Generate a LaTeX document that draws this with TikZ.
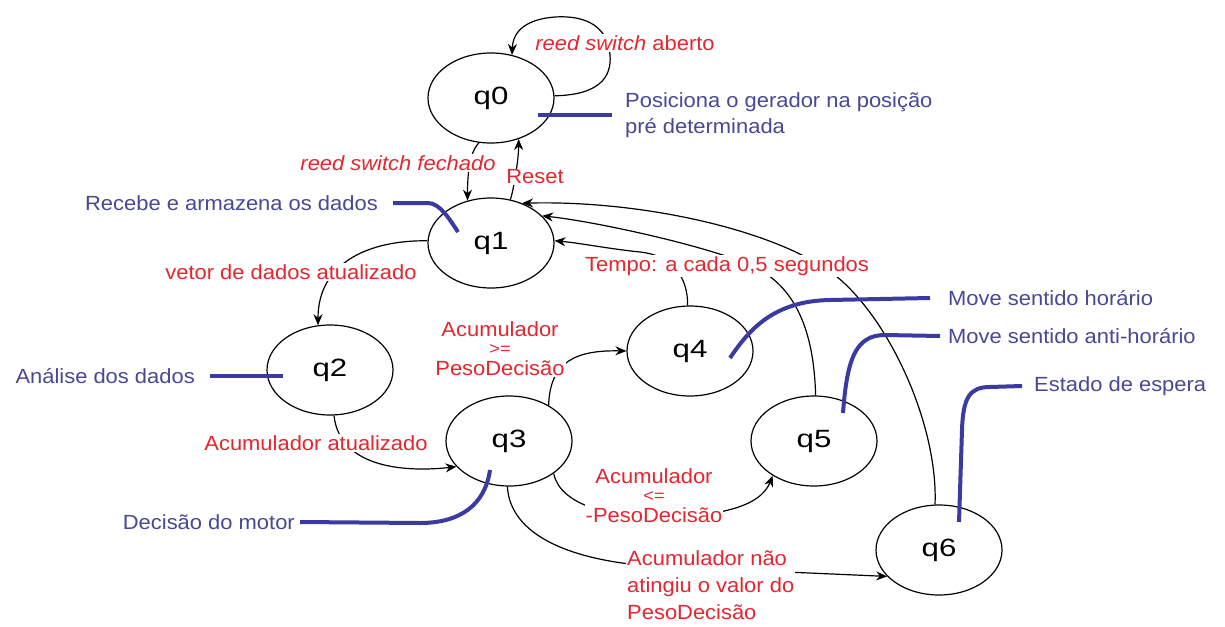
\documentclass[tikz,border=0pt]{standalone}
\usepackage{fontspec}
\setmainfont[FakeStretch=1.07]{Liberation Sans}
\newfontfamily\qfont[FakeStretch=1.25]{Liberation Sans}
\usetikzlibrary{shapes.geometric,arrows.meta}
\definecolor{lblred}{RGB}{228,38,48}
\definecolor{lblblue}{RGB}{72,72,150}
\definecolor{lnblue}{RGB}{58,58,160}
\begin{document}
\begin{tikzpicture}[x=1pt,y=-1pt,
  state/.style={draw, ellipse, line width=1.2pt, minimum width=126pt, minimum height=90pt, inner sep=0pt, font=\qfont\fontsize{25}{28}\selectfont},
  arr/.style={-{Stealth[length=11pt,width=9pt]}, line width=1.2pt},
  lbl/.style={text=lblred, fill=white, inner sep=1pt, font=\fontsize{20.5}{24}\selectfont},
  note/.style={text=lblblue, inner sep=0pt, font=\fontsize{20.5}{26}\selectfont},
  pointer/.style={draw=lnblue, line width=4pt}]
\useasboundingbox[fill=white] (0,0) rectangle (1225,626);

% states
\node[state] (q0) at (491,98) {q0};
\node[state] (q1) at (491,243) {q1};
\node[state] (q2) at (330,370) {q2};
\node[state] (q3) at (509,441) {q3};
\node[state] (q4) at (690,351) {q4};
\node[state] (q5) at (814,441) {q5};
\node[state] (q6) at (939,550) {q6};

% transitions
\draw[arr] (q0.2) .. controls (598,95) and (612,78) .. (610,55) .. controls (608,28) and (588,15) .. (555,17) .. controls (528,19) and (513,30) .. (q0.64);
\draw[arr] (q0.255) .. controls +(-10,10) and +(0,-25) .. (q1.119);
\draw[arr] (q1.66) .. controls +(3,-8) and +(0,20) .. (q0.-56);
\draw[arr] (q1.178) .. controls (370,240) and (318,262) .. (q2.105);
\draw[arr] (q2.-85) .. controls (340,470) and (410,472) .. (q3.206);
\draw[arr] (q3.42) .. controls (550,362) and (575,350) .. (q4.180);
\draw[arr] (q3.-36) .. controls (560,505) and (610,517) .. (655,517) .. controls (715,517) and (760,508) .. (q5.220);
\draw[arr] (q3.268) .. controls (510,535) and (570,560) .. (650,566) -- (q6.207);
\draw[arr] (q4.93) .. controls (688,275) and (670,255) .. (640,252) .. controls (610,249) and (580,243) .. (q1.2);
\draw[arr] (q5.88) .. controls (814,330) and (795,290) .. (760,270) .. controls (725,250) and (600,222) .. (q1.28);
\draw[arr] (q6.95) .. controls (938,430) and (895,330) .. (843,282) .. controls (791,234) and (650,200) .. (q1.52);

% transition labels
\node[lbl] (laberto) at (625,43) {\textit{reed switch} aberto};
\node[lbl] (lfechado) at (398,163) {\textit{reed switch fechado}};
\node[lbl] (lreset) at (535,177) {Reset};
\node[lbl] (lvetor) at (291,272) {vetor de dados atualizado};
\node[lbl, anchor=west] (ltempo) at (584,266) {Tempo: a cada 0,5 segundos};
\node[lbl, align=center] (lge) at (500,349) {Acumulador\\[-6pt]{\fontsize{17}{16}\selectfont >=}\\[-3pt]PesoDecisão};
\node[lbl] (latual) at (316,443) {Acumulador atualizado};
\node[lbl, align=center] (lle) at (654,496) {Acumulador\\[-6pt]{\fontsize{17}{16}\selectfont <=}\\[-3pt]-PesoDecisão};
\node[lbl, align=left, anchor=north west, font=\fontsize{20.5}{27}\selectfont] (lnao) at (626,549) {Acumulador não\\atingiu o valor do\\PesoDecisão};

% state descriptions
\node[note, anchor=west, align=left] (b0) at (625,115) {Posiciona o gerador na posição\\pré determinada};
\node[note, anchor=east] (b1) at (378,203) {Recebe e armazena os dados};
\node[note, anchor=east] (b2) at (195,376) {Análise dos dados};
\node[note, anchor=east] (b3) at (295,522) {Decisão do motor};
\node[note, anchor=west] (b4) at (948,298) {Move sentido horário};
\node[note, anchor=west] (b5) at (948,336) {Move sentido anti-horário};
\node[note, anchor=west] (b6) at (1034,386) {Estado de espera};

\coordinate (p0) at (538,115);
\coordinate (p1) at (458,232);
\coordinate (p2) at (283,376);
\coordinate (p3) at (490,470);
\coordinate (p4) at (730,358);
\coordinate (p5) at (843,413);
\coordinate (p6) at (959,522);

\draw[pointer] ([xshift=-13pt]b0.west) -- (p0);
\draw[pointer] ([xshift=15pt]b1.east) -- ++(35,0) .. controls +(12,0) and +(-8,-12) .. (p1);
\draw[pointer] ([xshift=15pt]b2.east) -- (p2);
\draw[pointer] ([xshift=5pt]b3.east) -- (420,523) .. controls (460,523) and (485,505) .. (p3);
\draw[pointer] (p4) .. controls (750,328) and (775,301) .. (830,300) -- ([xshift=-18pt]b4.west);
\draw[pointer] (p5) .. controls (847,360) and (855,335) .. (885,335) -- ([xshift=-8pt]b5.west);
\draw[pointer] (p6) -- (962,430) .. controls (963,397) and (970,387) .. (990,387) -- ([xshift=-12pt]b6.west);
\end{tikzpicture}
\end{document}
